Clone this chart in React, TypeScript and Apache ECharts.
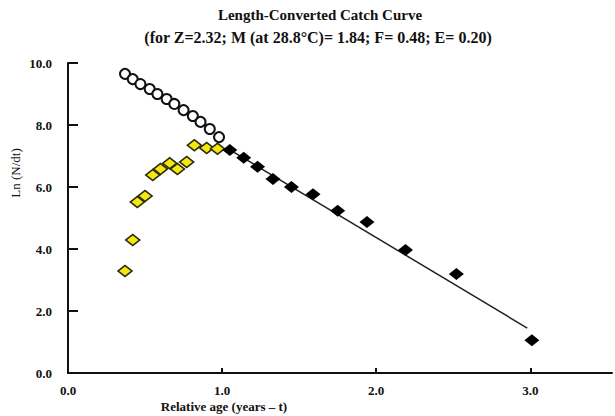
import React, { useEffect, useRef } from "react";
import * as echarts from "echarts";

const titleLine1 = "Length-Converted Catch Curve";
const titleLine2 = "(for Z=2.32; M (at 28.8°C)= 1.84; F= 0.48; E= 0.20)";
const xAxisName = "Relative age (years – t)";
const yAxisName = "Ln (N/dt)";
const xTicks = [0, 1, 2, 3];
const yTicks = [0, 2, 4, 6, 8, 10];

// extrapolated (open circles)
const openPoints: [number, number][] = [
  [0.37, 9.65], [0.42, 9.48], [0.47, 9.32], [0.53, 9.16], [0.58, 9.0], [0.64, 8.84],
  [0.69, 8.68], [0.75, 8.48], [0.81, 8.29], [0.86, 8.1], [0.92, 7.87], [0.98, 7.61],
];
// not used (yellow diamonds)
const yellowPoints: [number, number][] = [
  [0.37, 3.29], [0.42, 4.29], [0.45, 5.52], [0.5, 5.71], [0.55, 6.39], [0.6, 6.58],
  [0.66, 6.77], [0.71, 6.58], [0.77, 6.81], [0.82, 7.35], [0.9, 7.26], [0.97, 7.23],
];
// used in regression (black)
const blackPoints: [number, number][] = [
  [1.05, 7.19], [1.14, 6.94], [1.23, 6.65], [1.33, 6.26], [1.45, 6.0], [1.59, 5.77],
  [1.75, 5.23], [1.94, 4.87], [2.19, 3.97], [2.52, 3.19], [3.01, 1.06],
];
const regressionLine: [number, number][] = [[1.05, 7.2], [2.98, 1.45]];

const SERIF = "'Liberation Serif', 'Times New Roman', serif";

export default function App() {
  const ref = useRef<HTMLDivElement>(null);
  useEffect(() => {
    if (!ref.current) return;
    const chart = echarts.init(ref.current, undefined, { renderer: "svg" });
    const txt = (text: string, x: number, y: number, size: number, bold: boolean, rot = 0) => ({
      type: "text",
      x,
      y,
      rotation: rot,
      style: {
        text,
        textAlign: "center",
        textVerticalAlign: "middle",
        fontFamily: SERIF,
        fontWeight: bold ? "bold" : "normal",
        fontSize: size,
        fill: "#111",
      },
    });
    chart.setOption({
      animation: false,
      backgroundColor: "#ffffff",
      grid: { left: 68, right: 3, top: 63, bottom: 43 },
      xAxis: {
        type: "value",
        min: 0,
        max: 3.53,
        interval: 1,
        splitLine: { show: false },
        axisLine: { show: true, lineStyle: { color: "#111", width: 2 } },
        axisTick: { show: true, inside: true, length: 5, customValues: xTicks, lineStyle: { color: "#111", width: 2 } },
        axisLabel: {
          customValues: xTicks,
          formatter: (v: number) => v.toFixed(1),
          fontFamily: SERIF,
          fontWeight: "bold",
          fontSize: 13,
          color: "#111",
          margin: 11,
        },
      },
      yAxis: {
        type: "value",
        min: 0,
        max: 10,
        interval: 2,
        splitLine: { show: false },
        axisLine: { show: true, lineStyle: { color: "#111", width: 2 } },
        axisTick: { show: true, inside: true, length: 10, customValues: yTicks, lineStyle: { color: "#111", width: 2 } },
        axisLabel: {
          customValues: yTicks,
          formatter: (v: number) => v.toFixed(1),
          fontFamily: SERIF,
          fontWeight: "bold",
          fontSize: 13,
          color: "#111",
          margin: 16,
        },
      },
      graphic: [
        txt(titleLine1, 320, 15, 15, true),
        txt(titleLine2, 318, 37, 16, true),
        txt(xAxisName, 224, 406, 13, true),
        txt(yAxisName, 15, 173, 13, false, Math.PI / 2),
      ],
      series: [
        {
          type: "line",
          data: regressionLine,
          symbol: "none",
          lineStyle: { color: "#222", width: 1.5 },
          z: 1,
        },
        {
          type: "scatter",
          data: openPoints,
          symbol: "circle",
          symbolSize: 10,
          itemStyle: { color: "#ffffff", borderColor: "#111", borderWidth: 2, opacity: 1 },
          z: 3,
        },
        {
          type: "scatter",
          data: yellowPoints,
          symbol: "diamond",
          symbolSize: [14, 11],
          itemStyle: { color: "#f5e80f", borderColor: "#2a2a10", borderWidth: 1.6, opacity: 1 },
          z: 4,
        },
        {
          type: "scatter",
          data: blackPoints,
          symbol: "diamond",
          symbolSize: [15, 12],
          itemStyle: { color: "#000000", opacity: 1 },
          z: 5,
        },
      ],
    });
    return () => chart.dispose();
  }, []);
  return <div ref={ref} style={{ width: 615, height: 416, position: "absolute", left: 0, top: 0 }} />;
}
